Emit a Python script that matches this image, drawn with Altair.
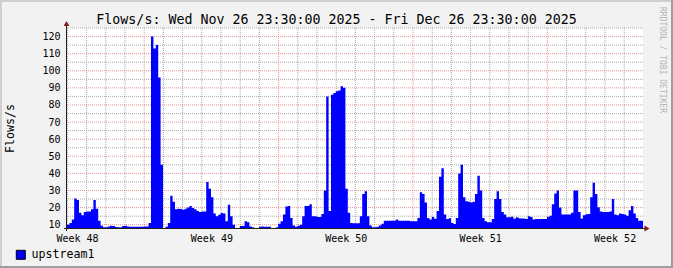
import json
from datetime import datetime, timedelta

import altair as alt
import pandas as pd

# ---------------- data (3-hour steps, starting Wed Nov 26 23:30 2025) ----------------
start = datetime(2025, 11, 26, 23, 30)
step_h = 3

wk48 = [
    10, 11, 13, 25.4, 24.5, 17, 15.5, 17.5,
    17.8, 17.8, 19, 24.5, 19.4, 12.3, 9.4, 8.5,
    8.5, 9, 9.4, 9.2, 8.6, 8.5, 8.5, 9.2,
    9.4, 9.0, 8.8, 8.8, 8.8, 8.8, 8.8, 8.8,
]
wk49 = [
    9, 9, 11, 120, 113, 115, 96, 45,
    8, 8.8, 11, 27, 23.5, 19, 19.4, 19.2,
    18.8, 19.4, 20, 21, 19.8, 19, 18, 17.5,
    17.8, 17.8, 35, 31, 26, 16.5, 15, 15.8,
    16.8, 16.5, 12, 21.7, 15, 10, 8, 8,
    9.2, 9.2, 12, 11.4, 9, 8.5, 8, 8,
    8.8, 9, 8.8, 8.8, 8.8, 8, 8, 8.5,
]
wk50 = [
    10.5, 12, 16, 20.6, 21, 14, 9.5, 8.8,
    9.4, 10, 15, 21, 21, 22, 15, 15,
    14.5, 14.5, 16.3, 30, 85, 18, 86, 87,
    88, 88.5, 91, 90, 31, 17, 11, 10.8,
    10.8, 10.8, 15, 28, 29.5, 15, 9.5, 8.5,
    8.5, 8.8, 9.5, 10.5, 12.3, 12.3, 12.3, 12.3,
    12.3, 13, 12.3, 12.3, 12.3, 12.3, 12.3, 12,
]
wk51 = [
    12, 12, 14, 29, 28, 23, 14, 13,
    14.5, 13.5, 18, 38, 43, 16, 13.3, 13.8,
    11, 10.4, 14, 40, 45, 26, 23.7, 23.5,
    23, 23.5, 28, 38.7, 30, 14, 12, 11.4,
    11.4, 13.3, 25, 29.5, 25, 17.5, 16, 14.3,
    14.3, 14.7, 13.5, 14.3, 13.8, 13.6, 13.6, 13.3,
    15, 14.5, 13, 13.3, 13.3, 13.3, 13.3, 13.4,
]
wk52 = [
    14.5, 15.3, 22, 28.2, 30, 20, 16, 16,
    16, 16, 17, 30, 30, 17.5, 13.6, 15.5,
    16.1, 16.2, 26, 34.5, 28, 20.2, 17.8, 17.4,
    17.4, 17.5, 17.8, 25, 16, 15.5, 16.6, 16.3,
    16, 15.3, 18.5, 21, 16.5, 14, 12.3, 12.3,
]

flows = wk48 + wk49 + wk50 + wk51 + wk52
total_h = 30 * 24
hours = [i * step_h for i in range(len(flows))]
df = pd.DataFrame({
    "h": hours + [total_h],
    "v": flows + [flows[-1]],
    "series": "upstream1",
})

# ---------------- grid / tick positions derived from the calendar ----------------
def hrs(t):
    return (t - start).total_seconds() / 3600.0

midnights = [datetime(2025, 11, 27) + timedelta(days=k) for k in range(30)]
mondays = [d for d in midnights if d.weekday() == 0]
days_minor = [hrs(d) for d in midnights if d.weekday() != 0]
weeks_major = [hrs(d) for d in mondays]
week_pos = [hrs(datetime(2025, 11, 27, 12) + timedelta(days=7 * k)) for k in range(5)]
week_labels = ["Week 48", "Week 49", "Week 50", "Week 51", "Week 52"]

y_major = list(range(10, 121, 10))
y_minor = [v for v in range(15, 126, 10)]

title_text = "Flows/s: Wed Nov 26 23:30:00 2025 - Fri Dec 26 23:30:00 2025"

# ---------------- style ----------------
MONO = "DejaVu Sans Mono"
GRID = "rgba(143,143,143,0.75)"
MGRID = "rgba(222,79,79,0.6)"
ARROW = "#801F1F"
AXIS = "#1F1F1F"
W, H = 576, 201

xs = alt.Scale(domain=[0, total_h], nice=False, zero=False)
ys = alt.Scale(domain=[7.5, 125], nice=False, zero=False)

label_expr = f"{json.dumps(week_labels)}[indexof({json.dumps(week_pos)}, datum.value)]"

x_axis = alt.Axis(
    values=week_pos, labelExpr=label_expr, title=None, grid=False,
    domain=False, ticks=False, labelFont=MONO, labelFontSize=10,
    labelColor="black", labelPadding=9, labelBaseline="middle",
    labelFlush=False, labelOverlap=False, labelBound=False,
)
y_axis = alt.Axis(
    values=y_major, title="Flows/s", grid=False, domain=False, ticks=False,
    labelFont=MONO, labelFontSize=10, labelColor="black", labelPadding=7,
    labelFlush=False, labelOverlap=False, labelBound=False,
    titleFont=MONO, titleFontSize=11.6, titleFontWeight="normal",
    titleColor="black", titleX=-57, titleY=100, titleAngle=-90,
    titleAlign="center", titleBaseline="middle",
)

one = pd.DataFrame({"a": [0]})

hmin = alt.Chart(pd.DataFrame({"v": y_minor})).mark_rule(
    color=GRID, strokeDash=[1, 1], strokeWidth=1
).encode(y=alt.Y("v:Q", scale=ys, axis=y_axis))
vmin = alt.Chart(pd.DataFrame({"h": days_minor})).mark_rule(
    color=GRID, strokeDash=[1, 1], strokeWidth=1
).encode(x=alt.X("h:Q", scale=xs, axis=x_axis))
hmaj = alt.Chart(pd.DataFrame({"v": y_major})).mark_rule(
    color=MGRID, strokeDash=[1, 1], strokeWidth=1
).encode(y=alt.Y("v:Q", scale=ys, axis=y_axis))
vmaj = alt.Chart(pd.DataFrame({"h": weeks_major})).mark_rule(
    color=MGRID, strokeDash=[1, 1], strokeWidth=1
).encode(x=alt.X("h:Q", scale=xs, axis=x_axis))

area = alt.Chart(df).mark_area(interpolate="step-after", clip=True).encode(
    x=alt.X("h:Q", scale=xs, axis=x_axis),
    y=alt.Y("v:Q", scale=ys, axis=y_axis),
    color=alt.Color(
        "series:N",
        scale=alt.Scale(domain=["upstream1"], range=["#0000FF"]),
        legend=alt.Legend(
            orient="none", legendX=-52, legendY=221, title=None, padding=0,
            symbolType="square", symbolSize=81, symbolStrokeColor="black",
            symbolStrokeWidth=1, symbolOpacity=1, labelFont=MONO, labelFontSize=11.6,
            labelColor="black", labelOffset=5,
        ),
    ),
)

xaxis_line = alt.Chart(one).mark_rule(color=AXIS, strokeWidth=1).encode(
    x=alt.value(-3), x2=alt.value(578), y=alt.value(200.5)
)
yaxis_line = alt.Chart(one).mark_rule(color=AXIS, strokeWidth=1).encode(
    x=alt.value(-0.5), y=alt.value(203), y2=alt.value(-4)
)
arrow_up = alt.Chart(one).mark_point(
    shape="triangle-up", filled=True, size=35, color=ARROW, opacity=1
).encode(x=alt.value(-0.5), y=alt.value(-4.5))
arrow_right = alt.Chart(one).mark_point(
    shape="triangle-right", filled=True, size=35, color=ARROW, opacity=1
).encode(x=alt.value(580), y=alt.value(200.5))

watermark = alt.Chart(one).mark_text(
    text="RRDTOOL / TOBI OETIKER", angle=90, font=MONO, fontSize=8,
    color="#B5B5B5", align="center", baseline="middle",
).encode(x=alt.value(595), y=alt.value(32))

title = alt.Chart(one).mark_text(
    text=title_text, font=MONO, fontSize=13.3, color="black",
    align="center", baseline="alphabetic",
).encode(x=alt.value(269.5), y=alt.value(-4))

# 3-D bevel around the whole picture
shade_a = "#CFCFCF"
shade_b = "#9E9E9E"
border_top = alt.Chart(one).mark_rule(color=shade_a, strokeWidth=2).encode(
    x=alt.value(-67), x2=alt.value(606), y=alt.value(-27))
border_left = alt.Chart(one).mark_rule(color=shade_a, strokeWidth=2).encode(
    x=alt.value(-66), y=alt.value(-28), y2=alt.value(240))
border_bottom = alt.Chart(one).mark_rule(color=shade_b, strokeWidth=2).encode(
    x=alt.value(-67), x2=alt.value(606), y=alt.value(239))
border_right = alt.Chart(one).mark_rule(color=shade_b, strokeWidth=2).encode(
    x=alt.value(605), y=alt.value(-28), y2=alt.value(240))

chart = alt.layer(
    hmin, vmin, hmaj, vmaj, area, xaxis_line, yaxis_line, arrow_up, arrow_right,
    watermark, title, border_top, border_left, border_bottom, border_right,
).properties(
    width=W, height=H,
    padding={"left": 67, "top": 28, "right": 30, "bottom": 39},
    autosize=alt.AutoSizeParams(type="none"),
).configure(
    background="#F2F2F2"
).configure_view(
    stroke=None, fill="white"
).configure_axis(
    labelOverlap=False, labelFlush=False, labelBound=False
)

chart.save("out.html", embed_options={"renderer": "svg", "actions": False})
